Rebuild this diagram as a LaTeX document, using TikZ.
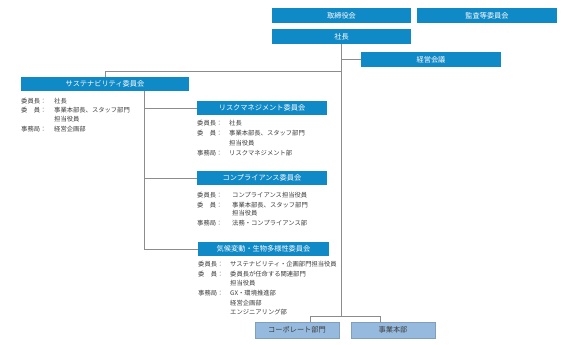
\documentclass[tikz,border=0pt]{standalone}
\usepackage{fontspec}
\setmainfont{Noto Sans CJK JP}
\definecolor{boxblue}{RGB}{16,137,199}
\definecolor{boxlight}{RGB}{150,186,222}
\definecolor{linegray}{RGB}{140,140,140}
\definecolor{txtgray}{RGB}{60,60,60}
\tikzset{
  bluebox/.style={fill=boxblue, draw=none, text=white, inner sep=0pt, minimum height=15pt, font=\fontsize{7.2}{8}\selectfont},
  lightbox/.style={fill=boxlight, draw=boxlight!85!black, line width=0.4pt, text=txtgray, inner sep=0pt, minimum height=16pt, minimum width=84pt, font=\fontsize{7.2}{8}\selectfont},
  conn/.style={draw=linegray, line width=0.9pt},
  lbl/.style={anchor=west, inner sep=0pt, text=txtgray, font=\fontsize{6.3}{7}\selectfont},
}
\begin{document}
\begin{tikzpicture}[x=1pt,y=-1pt]
\useasboundingbox (0,0) rectangle (584,345);
% top boxes
\node[bluebox, minimum width=139pt] (board) at (341.5,15.5) {取締役会};
\node[bluebox, minimum width=140pt] (audit) at (487,15.5) {監査等委員会};
\node[bluebox, minimum width=139pt] (pres) at (341.5,36.5) {社長};
\node[bluebox, minimum width=140pt] (mgmt) at (431,59.5) {経営会議};
% committees
\node[bluebox, minimum width=168pt, minimum height=14pt] (sust) at (105,84) {サステナビリティ委員会};
\node[bluebox, minimum width=130pt, minimum height=14pt] (risk) at (262,108) {リスクマネジメント委員会};
\node[bluebox, minimum width=130pt, minimum height=14pt] (comp) at (262,178) {コンプライアンス委員会};
\node[bluebox, minimum width=131pt, minimum height=14pt] (clim) at (263.5,249) {気候変動・生物多様性委員会};
% bottom
\node[lightbox] (corp) at (297,330) {コーポレート部門};
\node[lightbox] (biz) at (393,330) {事業本部};
% connectors
\coordinate (jtop) at (341.5,71);
\coordinate (jbot) at (341.5,316);
\coordinate (bl) at (310,316);
\coordinate (br) at (380,316);
\coordinate (sv) at (144,91);
\draw[conn] (pres.south) -- (jbot);
\draw[conn] (mgmt.west) -- (mgmt.west -| pres.south);
\draw[conn] (sust.north) |- (jtop);
\draw[conn] (sv) |- (clim.west);
\draw[conn] (risk.west) -- (risk.west -| sv);
\draw[conn] (comp.west) -- (comp.west -| sv);
\draw[conn] (bl |- corp.north) -- (bl) -- (br) -- (br |- biz.north);
% sustainability text
\node[lbl] (s1) at (21,100.7) {委員長：};
\node[lbl] (s1v) at (54,100.7) {社長};
\node[lbl] (s2) at (21,110.5) {委　員：};
\node[lbl] (s2v) at (54,110.5) {事業本部長、スタッフ部門};
\node[lbl] (s3v) at (54,119.5) {担当役員};
\node[lbl] (s4) at (21,129.3) {事務局：};
\node[lbl] (s4v) at (54,129.3) {経営企画部};
% risk text
\node[lbl] (r1) at (197,123.3) {委員長：};
\node[lbl] (r1v) at (229,123.3) {社長};
\node[lbl] (r2) at (197,133.3) {委　員：};
\node[lbl] (r2v) at (229,133.3) {事業本部長、スタッフ部門};
\node[lbl] (r3v) at (229,142.7) {担当役員};
\node[lbl] (r4) at (197,152.7) {事務局：};
\node[lbl] (r4v) at (229,152.7) {リスクマネジメント部};
% compliance text
\node[lbl] (c1) at (197,194.7) {委員長：};
\node[lbl] (c1v) at (232,194.7) {コンプライアンス担当役員};
\node[lbl] (c2) at (197,204.7) {委　員：};
\node[lbl] (c2v) at (232,204.7) {事業本部長、スタッフ部門};
\node[lbl] (c3v) at (232,213.3) {担当役員};
\node[lbl] (c4) at (197,223.3) {事務局：};
\node[lbl] (c4v) at (232,223.3) {法務・コンプライアンス部};
% climate text
\node[lbl] (k1) at (198,264.3) {委員長：};
\node[lbl] (k1v) at (230,264.3) {サステナビリティ・企画部門担当役員};
\node[lbl] (k2) at (198,274.3) {委　員：};
\node[lbl] (k2v) at (230,274.3) {委員長が任命する関連部門};
\node[lbl] (k3v) at (230,283.3) {担当役員};
\node[lbl] (k4) at (198,293.3) {事務局：};
\node[lbl] (k4v) at (230,293.3) {GX・環境推進部};
\node[lbl] (k5v) at (230,302.7) {経営企画部};
\node[lbl] (k6v) at (230,311.7) {エンジニアリング部};
\end{tikzpicture}
\end{document}
